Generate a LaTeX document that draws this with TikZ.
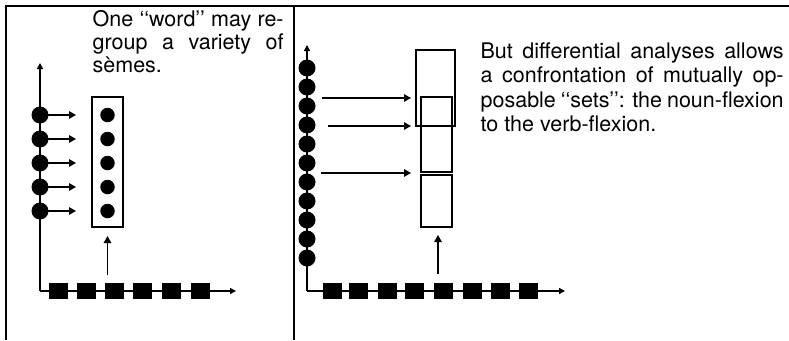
\documentclass[tikz,border=0pt]{standalone}
\usepackage{fontspec}
\setmainfont{TeX Gyre Heros}
\usetikzlibrary{arrows.meta}
\begin{document}
\begin{tikzpicture}[x=1pt,y=-1pt,line width=1.3pt,
  tip/.style={-{Triangle[length=7pt,width=7.5pt]}},
  axistip/.style={-{Triangle[length=6pt,width=6pt]}},
  seme/.style={circle,fill=black,inner sep=0pt,minimum size=17pt},
  wordseme/.style={circle,fill=black,inner sep=0pt,minimum size=14.5pt},
  lexeme/.style={rectangle,fill=black,inner sep=0pt,minimum width=19pt,minimum height=16pt},
  setbox/.style={draw,rectangle,inner sep=0pt,line width=1.3pt},
  frame/.style={line width=1.4pt},
  caption/.style={inner sep=0pt,anchor=north west,align=left,
    font=\fontsize{21.5}{23}\selectfont}]
\useasboundingbox (0,0) rectangle (789,340);

% panel frame
\draw[frame] (6,340) -- (6,6) -- (789,6);
\draw[frame] (294,6) -- (294,340);

% ---------- left panel: one word, several semes ----------
\coordinate (lo) at (40,291);
\coordinate (ltop) at (40,63);
\coordinate (lend) at (236,291);
\draw[axistip] (lo) -- (ltop);
\draw[axistip] (lo) -- (lend);

\node[setbox,minimum width=31pt,minimum height=130pt] (word) at (107.5,162) {};

\foreach \i/\y in {1/115,2/139,3/163,4/187,5/211}{
  \node[seme] (ls\i) at (40,\y) {};
  \node[wordseme] (lw\i) at (107.5,\y) {};
  \coordinate (lt\i) at (76,\y);
  \draw[tip] (ls\i.center) -- (lt\i);
}

\foreach \i/\x in {1/58.5,2/86.5,3/114.5,4/142.5,5/171,6/200}
  \node[lexeme] (lx\i) at (\x,291) {};

\coordinate (lub) at (107.5,275);
\coordinate (lut) at (107.5,236);
\draw[tip] (lub) -- (lut);

\node[caption] (ltext) at (92,10)
  {\makebox[191pt][s]{One ‘‘word’’ may re-}\\
   \makebox[191pt][s]{group a variety of}\\
   sèmes.};

% ---------- right panel: opposable sets ----------
\coordinate (ro) at (307,291);
\coordinate (rtop) at (307,45);
\coordinate (rend) at (565,291);
\draw[axistip] (ro) -- (rtop);
\draw[axistip] (ro) -- (rend);

\foreach \i in {0,...,10}
  \node[seme] (rs\i) at (307,68+19*\i) {};

\foreach \i/\x in {1/332.5,2/358.5,3/387.5,4/414.5,5/443,6/472,7/500.5,8/528.5}
  \node[lexeme] (rx\i) at (\x,291) {};

\node[setbox,minimum width=39pt,minimum height=76pt] (noun) at (435.5,88) {};
\node[setbox,minimum width=31pt,minimum height=75pt] (verb) at (436.5,134.5) {};
\node[setbox,minimum width=31pt,minimum height=52pt] (rest) at (436.5,201) {};

\coordinate (ra1) at (322,98);  \coordinate (rb1) at (411,98);
\coordinate (ra2) at (328,126); \coordinate (rb2) at (411,126);
\coordinate (ra3) at (321,173); \coordinate (rb3) at (411,173);
\foreach \i in {1,2,3}
  \draw[tip] (ra\i) -- (rb\i);

\coordinate (rub) at (438,274);
\coordinate (rut) at (438,235);
\draw[tip] (rub) -- (rut);

\node[caption,font=\fontsize{21.5}{24.5}\selectfont] (rtext) at (480,42)
  {\makebox[303pt][s]{But differential analyses allows}\\
   \makebox[303pt][s]{a confrontation of mutually op-}\\
   \makebox[303pt][s]{posable ‘‘sets’’: the noun-flexion}\\
   to the verb-flexion.};
\end{tikzpicture}
\end{document}
